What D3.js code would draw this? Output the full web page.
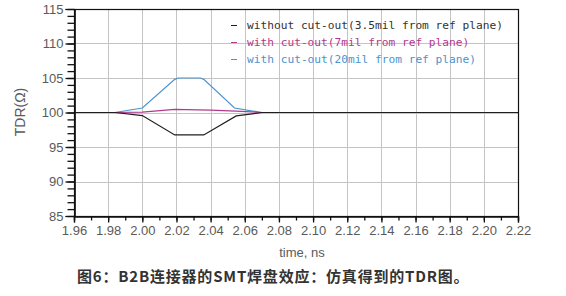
<!DOCTYPE html>
<html>
<head>
<meta charset="utf-8">
<script src="https://cdn.jsdelivr.net/npm/d3@7"></script>
<style>
  body { margin: 0; background: #fff; }
  svg text { font-family: "Liberation Sans", Arial, sans-serif; }
</style>
</head>
<body>
<div id="chart"></div>
<script>
// TDR curves (time in ns, impedance in ohm)
var xTicks = [1.96, 1.98, 2.00, 2.02, 2.04, 2.06, 2.08, 2.10, 2.12, 2.14, 2.16, 2.18, 2.20, 2.22];
var yTicks = [85, 90, 95, 100, 105, 110, 115];

var seriesNames = [
  "without cut-out(3.5mil from ref plane)",
  "with cut-out(7mil from ref plane)",
  "with cut-out(20mil from ref plane)"
];
var seriesColors = ["#1e1e1e", "#b23a8e", "#4b93cf"];
var legendTextColors = ["#333", "#b23a8e", "#4b93cf"];

var timeBlue = [1.96, 1.984, 2.000, 2.019, 2.021, 2.034, 2.036, 2.054, 2.070, 2.22];
var tdrBlue  = [100, 100, 100.65, 104.8, 105.0, 105.0, 104.8, 100.65, 100, 100];

var timeMagenta = [1.96, 1.984, 2.000, 2.019, 2.040, 2.055, 2.070, 2.22];
var tdrMagenta  = [100, 100, 100.05, 100.45, 100.35, 100.2, 100, 100];

var timeBlack = [1.96, 1.984, 2.000, 2.019, 2.036, 2.055, 2.070, 2.22];
var tdrBlack  = [100, 100, 99.55, 96.75, 96.75, 99.5, 100, 100];

var captionText = "图6：B2B连接器的SMT焊盘效应：仿真得到的TDR图。";

var W = 566, H = 296;
var plotLeft = 74, plotRight = 518, plotTop = 9, plotBottom = 216;

var svg = d3.select("#chart").append("svg")
    .attr("width", W).attr("height", H);

var xScale = d3.scaleLinear().domain([1.96, 2.22]).range([plotLeft, plotRight]);
var yScale = d3.scaleLinear().domain([85, 115]).range([plotBottom, plotTop]);

// grid
var grid = svg.append("g").attr("class", "grid")
    .attr("stroke", "#c4c4c4").attr("stroke-width", 1);
grid.selectAll(".vg").data(xTicks.slice(1, -1)).enter().append("line")
    .attr("x1", function(d) { return Math.round(xScale(d)) + 0.5; })
    .attr("x2", function(d) { return Math.round(xScale(d)) + 0.5; })
    .attr("y1", plotTop).attr("y2", plotBottom);
grid.selectAll(".hg").data(yTicks.slice(1, -1)).enter().append("line")
    .attr("y1", function(d) { return Math.round(yScale(d)) + 0.5; })
    .attr("y2", function(d) { return Math.round(yScale(d)) + 0.5; })
    .attr("x1", plotLeft).attr("x2", plotRight);

// legend
var legend = svg.append("g").attr("class", "legend");
seriesNames.forEach(function(name, i) {
  var y = 25 + i * 17;
  legend.append("line")
    .attr("x1", 231).attr("x2", 237).attr("y1", y + 0.5).attr("y2", y + 0.5)
    .attr("stroke", seriesColors[i]).attr("stroke-width", 1);
  legend.append("text")
    .attr("x", 247).attr("y", y).attr("dy", "0.35em")
    .style("font-family", "'DejaVu Sans Mono', monospace")
    .style("font-size", "11.2px")
    .attr("fill", legendTextColors[i])
    .text(name);
});

// curves
var line = d3.line()
    .x(function(d) { return xScale(d[0]); })
    .y(function(d) { return yScale(d[1]); });

var curves = [
  d3.zip(timeBlue, tdrBlue),
  d3.zip(timeMagenta, tdrMagenta),
  d3.zip(timeBlack, tdrBlack)
];
var curveColors = [seriesColors[2], seriesColors[1], seriesColors[0]];

svg.append("g").selectAll("path").data(curves).enter().append("path")
    .attr("d", line)
    .attr("fill", "none")
    .attr("stroke", function(d, i) { return curveColors[i]; })
    .attr("stroke-width", 1.2);

// frame
svg.append("rect")
    .attr("x", plotLeft + 0.5).attr("y", plotTop + 0.5)
    .attr("width", plotRight - plotLeft).attr("height", plotBottom - plotTop)
    .attr("fill", "none").attr("stroke", "#111").attr("stroke-width", 1.2);

// axes
var xMinor = d3.range(0, 27).map(function(i) { return 1.96 + i * 0.01; });
var yMinor = d3.range(85, 116);

var xAxis = d3.axisBottom(xScale).tickValues(xTicks)
    .tickFormat(d3.format(".2f")).tickSize(6).tickPadding(3);
var xAxisMinor = d3.axisBottom(xScale).tickValues(xMinor).tickFormat("").tickSize(4);
var yAxis = d3.axisLeft(yScale).tickValues(yTicks)
    .tickFormat(d3.format("d")).tickSize(9).tickPadding(2);
var yAxisMinor = d3.axisLeft(yScale).tickValues(yMinor).tickFormat("").tickSize(7);

[[xAxisMinor, "x"], [xAxis, "x"], [yAxisMinor, "y"], [yAxis, "y"]].forEach(function(a) {
  var g = svg.append("g")
    .attr("transform", a[1] == "x" ? "translate(0," + (plotBottom + 0.5) + ")" : "translate(" + (plotLeft + 0.5) + ",0)")
    .call(a[0]);
  g.select(".domain").attr("stroke", "#111").attr("stroke-width", 1.2);
  g.selectAll(".tick line").attr("stroke", "#111").attr("stroke-width", 1.3);
  g.selectAll("text").attr("fill", "#5a5a5a").style("font-size", "13px");
});

// axis titles
svg.append("text")
    .attr("transform", "translate(25,112) rotate(-90)")
    .attr("text-anchor", "middle")
    .attr("fill", "#5a5a5a")
    .style("font-size", "14px")
    .text("TDR(Ω)");

svg.append("text")
    .attr("x", 302).attr("y", 257)
    .attr("text-anchor", "middle")
    .attr("fill", "#5a5a5a")
    .style("font-size", "13px")
    .text("time, ns");

// caption
svg.append("text")
    .attr("x", 77).attr("y", 282)
    .attr("fill", "#333")
    .style("font-family", "'Noto Sans CJK SC', sans-serif")
    .style("font-size", "15px")
    .style("font-weight", "bold")
    .style("letter-spacing", "0.8px")
    .text(captionText);
</script>
</body>
</html>
